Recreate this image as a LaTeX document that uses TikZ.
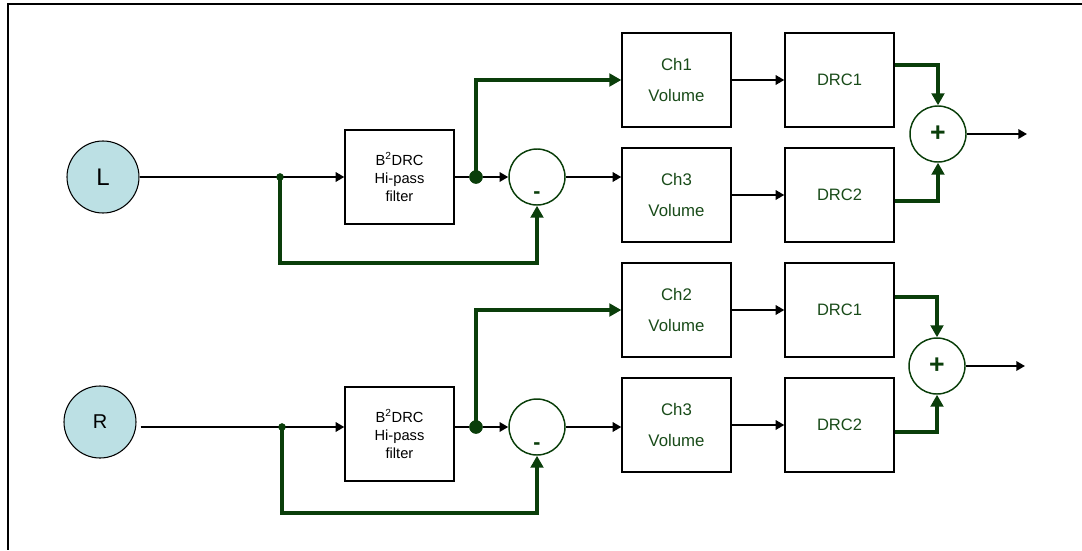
\documentclass[tikz,border=0pt]{standalone}
\usepackage{fontspec}
\setmainfont{Liberation Sans}
\usetikzlibrary{arrows.meta}
\definecolor{gl}{RGB}{10,62,10}
\definecolor{gt}{RGB}{25,75,25}
\definecolor{lb}{RGB}{188,224,228}
\begin{document}
\begin{tikzpicture}[x=0.75pt,y=-0.75pt,
 box/.style={draw, line width=1pt, minimum width=81.75pt, minimum height=70.5pt, inner sep=0pt, align=center},
 chbox/.style={box, text=gt, font=\fontsize{12.6}{23}\selectfont},
 drcbox/.style={box, text=gt, font=\fontsize{12.4}{15}\selectfont},
 fltbox/.style={box, font=\fontsize{11}{13.5}\selectfont},
 src/.style={circle, draw, line width=0.8pt, fill=lb, minimum size=54pt, inner sep=0pt},
 op/.style={circle, draw=gl, line width=1.1pt, minimum size=42pt, inner sep=0pt},
 minus/.style={text=gl, inner sep=0pt, font=\bfseries\fontsize{16}{16}\selectfont},
 bl/.style={line width=2pt, -{Triangle[length=6.5pt,width=7pt]}},
 gr/.style={draw=gl, color=gl, line width=3.4pt, -{Triangle[length=9pt,width=9.5pt]}},
 sdot/.style={circle, fill=gl, inner sep=0pt, minimum size=5.5pt},
 bdot/.style={circle, fill=gl, inner sep=0pt, minimum size=10pt},
]
\useasboundingbox (0,0) rectangle (1082,550);
\draw[line width=1.6pt] (1082,4) -- (8,4) -- (8,550);

% ---------- top (L) ----------
\node[src, font=\fontsize{18}{18}\selectfont] (L) at (103,177) {L};
\node[fltbox] (f1) at (399.5,177) {B\textsuperscript{2}DRC\\Hi-pass\\filter};
\node[sdot] (s1) at (280,177) {};
\node[bdot] (b1) at (476,177) {};
\node[op] (m1) at (537,177) {};
\node[minus] (m1s) at (537,195) {-};
\node[chbox] (c1) at (676.5,80) {Ch1\\Volume};
\node[chbox] (c3) at (676.5,195) {Ch3\\Volume};
\node[drcbox] (d1) at (839.5,80) {DRC1};
\node[drcbox] (d2) at (839.5,195) {DRC2};
\node[op, text=gl, font=\bfseries\fontsize{20}{20}\selectfont] (p1) at (938,134) {+};
\coordinate (o1) at (1027,134);
\coordinate (k1) at (537,263);

\draw[bl] (L) -- (f1);
\draw[line width=2pt] (f1) -- (b1);
\draw[bl] (b1) -- (m1);
\draw[gr] (s1.center) |- (k1) -- (m1.south);
\draw[gr] (b1.center) |- (c1.west);
\draw[bl] (m1) -- (m1 -| c3.west);
\draw[bl] (c1) -- (d1);
\draw[bl] (c3) -- (d2);
\draw[gr] ([yshift=11.25pt]d1.east) -| (p1.north);
\draw[gr] ([yshift=-4.5pt]d2.east) -| (p1.south);
\draw[bl] (p1) -- (o1);
\node[sdot] at (s1) {};
\node[bdot] at (b1) {};

% ---------- bottom (R) ----------
\node[src, font=\fontsize{15}{15}\selectfont] (R) at (100,422) {R};
\node[fltbox] (f2) at (399.5,434) {B\textsuperscript{2}DRC\\Hi-pass\\filter};
\node[sdot] (s2) at (282,427) {};
\node[bdot] (b2) at (476,427) {};
\node[op] (m2) at (537,427) {};
\node[minus] (m2s) at (537,446) {-};
\node[chbox] (c2) at (676.5,310) {Ch2\\Volume};
\node[chbox] (c4) at (676.5,425) {Ch3\\Volume};
\node[drcbox] (d3) at (839.5,310) {DRC1};
\node[drcbox] (d4) at (839.5,425) {DRC2};
\node[op, text=gl, font=\bfseries\fontsize{20}{20}\selectfont] (p2) at (937,366) {+};
\coordinate (o2) at (1025,366);
\coordinate (k2) at (537,513);

\draw[bl] ([xshift=3pt]s2 -| R.east) -- (s2 -| f2.west);
\draw[line width=2pt] (b2 -| f2.east) -- (b2);
\draw[bl] (b2) -- (m2);
\draw[gr] (s2.center) |- (k2) -- (m2.south);
\draw[gr] (b2.center) |- (c2.west);
\draw[bl] (m2) -- (m2 -| c4.west);
\draw[bl] (c2) -- (d3);
\draw[bl] (c4) -- (d4);
\draw[gr] ([yshift=9.75pt]d3.east) -| (p2.north);
\draw[gr] ([yshift=-5.25pt]d4.east) -| (p2.south);
\draw[bl] (p2) -- (o2);
\node[sdot] at (s2) {};
\node[bdot] at (b2) {};
\end{tikzpicture}
\end{document}
